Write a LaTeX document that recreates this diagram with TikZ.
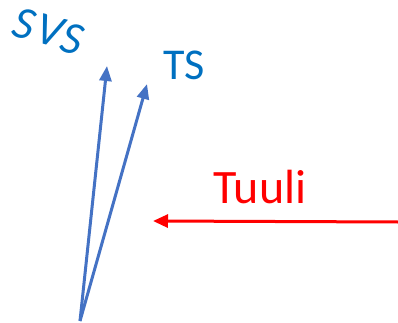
\documentclass[tikz,border=0pt]{standalone}
\usepackage{fontspec}
\setmainfont{Carlito}
\usetikzlibrary{arrows.meta}
\definecolor{txtblue}{HTML}{0070C0}
\definecolor{arrblue}{HTML}{4472C4}
\definecolor{wred}{HTML}{FF0000}
\tikzset{
  barrow/.style={draw=arrblue, line width=3pt, -{Triangle[length=15pt,width=12pt]}},
  rarrow/.style={draw=wred, line width=3pt, -{Triangle[length=15pt,width=13pt]}},
  lbl/.style={inner sep=0pt, anchor=base},
  svsletter/.style={inner sep=0pt, anchor=base, text=txtblue, font=\fontsize{46}{46}\selectfont\itshape, rotate=-15}
}
\begin{document}
\begin{tikzpicture}[x=1pt,y=-1pt]
\useasboundingbox (0,0) rectangle (398,323);
\coordinate (base) at (80,321);
\coordinate (t1) at (107,66);
\coordinate (t2) at (147,84);
\coordinate (rs) at (398,222);
\coordinate (rt) at (153,221);
\draw[barrow] (base) -- (t1);
\draw[barrow] (base) -- (t2);
\draw[rarrow] (rs) -- (rt);
\node[svsletter] (svs1) at (21,38) {S};
\node[svsletter] (svs2) at (46,45) {V};
\node[svsletter] (svs3) at (69,53) {S};
\node[lbl, text=txtblue, font=\fontsize{44}{44}\selectfont] (ts) at (184,80) {TS};
\node[lbl, text=wred, font=\fontsize{48}{48}\selectfont] (tuuli) at (260,203) {Tuuli};
\end{tikzpicture}
\end{document}
